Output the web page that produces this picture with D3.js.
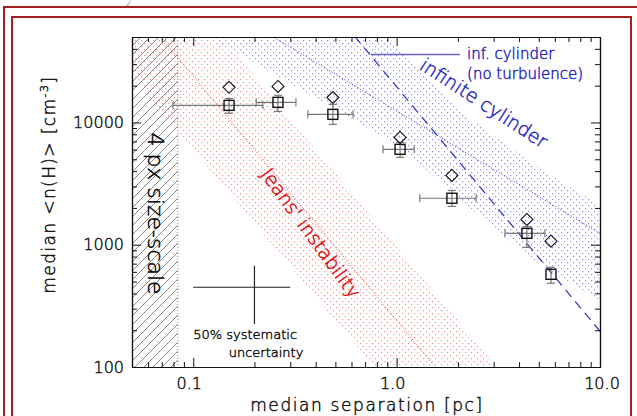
<!DOCTYPE html>
<html>
<head>
<meta charset="utf-8">
<script src="https://cdn.jsdelivr.net/npm/d3@7"></script>
<style>
  body { margin: 0; background: #fff; }
  text { font-family: "DejaVu Sans", sans-serif; font-weight: 200; stroke-width: 0.45; paint-order: fill; }
</style>
</head>
<body>
<div id="chart"></div>
<script>
// data
var sepX      = [0.150, 0.261, 0.486, 1.04, 1.87, 4.37, 5.74];
var sepLo     = [0.0796, 0.204, 0.366, 0.857, 1.30, 3.41, 5.74];
var sepHi     = [0.220, 0.320, 0.611, 1.22, 2.46, 5.36, 5.74];
var nSquare   = [13800, 14600, 11650, 6030, 2400, 1240, 573];
var nLo       = [11900, 12300, 9650, 5190, 2060, 950, 484];
var nHi       = [15700, 16700, 14060, 6880, 2780, 1410, 653];
var nDiamond  = [19400, 19700, 16000, 7550, 3690, 1610, 1070];

// model lines, as end points [sep, n]
var jeansMid   = [[0.05, 96000], [10, 2.4]];
var jeansLow   = [[0.05, 24000], [10, 0.6]];
var jeansHigh  = [[0.05, 384000], [10, 9.6]];
var cylDashed  = [[0.5, 78400], [10, 196]];
var cylDotted  = [[0.2, 62000], [10, 1240]];
var cylUpper   = [[0.877, 50000], [2.29, 10800], [5.24, 4060], [10, 2100]];
var cylLower   = [[0.12, 50000], [0.26, 24000], [1.04, 6300], [2.3, 2000], [5.0, 700], [10, 350]];
var sizeScale  = 0.084;   // pc
var sysErr     = {x: 0.2, n: 449};

var xTicksMajor = [0.1, 1, 10];
var xTickLabels = ["0.1", "1.0", "10.0"];
var yTicksMajor = [100, 1000, 10000];
var yTickLabels = ["100", "1000", "10000"];

var width = 637, height = 416;
var margin = {left: 132, top: 37, right: 37, bottom: 49};
var w = width - margin.left - margin.right,
    h = height - margin.top - margin.bottom;

var svg = d3.select("#chart").append("svg")
  .attr("width", width).attr("height", height);

// page frame
var frameCol = "#a32020";
svg.append("rect").attr("x", 4).attr("y", 7).attr("width", 640).attr("height", 420)
  .attr("fill", "none").attr("stroke", frameCol).attr("stroke-width", 2);
svg.append("rect").attr("x", 12).attr("y", 17).attr("width", 619).attr("height", 420)
  .attr("fill", "none").attr("stroke", frameCol).attr("stroke-width", 2);
svg.append("text").attr("x", 126).attr("y", 6).attr("font-size", 8).attr("fill", "#666").text("2");

var defs = svg.append("defs");
defs.append("clipPath").attr("id", "plotclip")
  .append("rect").attr("width", w).attr("height", h);

function dots(id, col) {
  var p = defs.append("pattern").attr("id", id).attr("patternUnits", "userSpaceOnUse")
    .attr("width", 6).attr("height", 6);
  p.append("rect").attr("x", 0).attr("y", 0).attr("width", 1.2).attr("height", 1.2).attr("fill", col);
  p.append("rect").attr("x", 3).attr("y", 3).attr("width", 1.2).attr("height", 1.2).attr("fill", col);
}
dots("reddots", "#f39090");
dots("bluedots", "#8c8ce6");

var hatch = defs.append("pattern").attr("id", "hatch").attr("patternUnits", "userSpaceOnUse")
  .attr("width", 9).attr("height", 9);
hatch.append("path").attr("d", "M-1,10 L10,-1 M-2,2 L2,-2 M7,11 L11,7")
  .attr("stroke", "#555").attr("stroke-width", 0.7);

var g = svg.append("g").attr("transform", "translate(" + margin.left + "," + margin.top + ")");

var x = d3.scaleLog().domain([0.05, 10]).range([0, w]);
var y = d3.scaleLog().domain([100, 50000]).range([h, 0]);

var line = d3.line().x(function(d) { return x(d[0]); }).y(function(d) { return y(d[1]); });

var plot = g.append("g").attr("clip-path", "url(#plotclip)");

// Jeans band
plot.append("path")
  .attr("d", line(jeansLow.concat(jeansHigh.slice().reverse())) + "Z")
  .attr("fill", "url(#reddots)");
// cylinder band
plot.append("path")
  .attr("d", line(cylUpper.concat(cylLower.slice().reverse())) + "Z")
  .attr("fill", "url(#bluedots)");

plot.append("path").attr("d", line(jeansMid)).attr("fill", "none")
  .attr("stroke", "#e03030").attr("stroke-width", 1).attr("stroke-dasharray", "1,2");
plot.append("path").attr("d", line(cylDotted)).attr("fill", "none")
  .attr("stroke", "#3030c0").attr("stroke-width", 1).attr("stroke-dasharray", "1,2");
plot.append("path").attr("d", line(cylDashed)).attr("fill", "none")
  .attr("stroke", "#3030c0").attr("stroke-width", 1.2).attr("stroke-dasharray", "9,6");

// resolution limit
plot.append("rect").attr("x", 0).attr("y", 0).attr("width", x(sizeScale)).attr("height", h)
  .attr("fill", "url(#hatch)");
plot.append("line").attr("x1", x(sizeScale)).attr("x2", x(sizeScale)).attr("y1", 0).attr("y2", h)
  .attr("stroke", "#888").attr("stroke-dasharray", "1,2");

// annotations
function label(sel, col) { return sel.attr("fill", col).attr("stroke", col); }

label(g.append("text").attr("transform", "translate(" + (x(0.065)) + "," + (y(1800)) + ") rotate(90)")
  .attr("text-anchor", "middle").attr("dominant-baseline", "central")
  .attr("font-size", 22), "#000").text("4 px size-scale");

label(g.append("text").attr("transform", "translate(" + (x(0.38)) + "," + (y(1250)) + ") rotate(54)")
  .attr("text-anchor", "middle").attr("dominant-baseline", "central")
  .attr("font-size", 19), "#e00000").text("Jeans' instability");

label(g.append("text").attr("transform", "translate(" + (x(2.69)) + "," + (y(14500)) + ") rotate(33)")
  .attr("text-anchor", "middle").attr("dominant-baseline", "central")
  .attr("font-size", 19), "#2020c0").text("infinite cylinder");

// legend
g.append("line").attr("x1", x(0.748)).attr("x2", x(2.05)).attr("y1", y(36000)).attr("y2", y(36000))
  .attr("stroke", "#6a60d0").attr("stroke-width", 1.5);
label(g.append("text").attr("x", x(2.22)).attr("y", y(36000)).attr("dominant-baseline", "central")
  .attr("font-size", 15), "#2020c0").text("inf. cylinder");
label(g.append("text").attr("x", x(2.22)).attr("y", y(25000)).attr("dominant-baseline", "central")
  .attr("font-size", 15), "#2020c0").text("(no turbulence)");

// systematic uncertainty cross
var sys = g.append("g").attr("stroke", "#222").attr("stroke-width", 1.2);
sys.append("line").attr("x1", x(sysErr.x * 0.5)).attr("x2", x(sysErr.x * 1.5))
  .attr("y1", y(sysErr.n)).attr("y2", y(sysErr.n));
sys.append("line").attr("x1", x(sysErr.x)).attr("x2", x(sysErr.x))
  .attr("y1", y(sysErr.n * 0.5)).attr("y2", y(sysErr.n * 1.5));
label(g.append("text").attr("x", x(0.1)).attr("y", y(sysErr.n) + 52).attr("font-size", 13), "#111")
  .text("50% systematic");
label(g.append("text").attr("x", x(0.228)).attr("y", y(sysErr.n) + 70).attr("font-size", 13), "#111")
  .attr("text-anchor", "middle").text("uncertainty");

// data points
var pts = d3.range(sepX.length);
var eb = g.append("g").attr("stroke", "#777").attr("stroke-width", 1.2).attr("fill", "none");
pts.forEach(function(i) {
  var cx = x(sepX[i]), cy = y(nSquare[i]);
  if (sepHi[i] > sepLo[i]) {
    eb.append("line").attr("x1", x(sepLo[i])).attr("x2", x(sepHi[i])).attr("y1", cy).attr("y2", cy);
    eb.append("line").attr("x1", x(sepLo[i])).attr("x2", x(sepLo[i])).attr("y1", cy - 4).attr("y2", cy + 4);
    eb.append("line").attr("x1", x(sepHi[i])).attr("x2", x(sepHi[i])).attr("y1", cy - 4).attr("y2", cy + 4);
  }
  eb.append("line").attr("x1", cx).attr("x2", cx).attr("y1", y(nLo[i])).attr("y2", y(nHi[i]));
  eb.append("line").attr("x1", cx - 4).attr("x2", cx + 4).attr("y1", y(nLo[i])).attr("y2", y(nLo[i]));
  eb.append("line").attr("x1", cx - 4).attr("x2", cx + 4).attr("y1", y(nHi[i])).attr("y2", y(nHi[i]));
});
g.selectAll(".sq").data(pts).enter().append("rect").attr("class", "sq")
  .attr("x", function(i) { return x(sepX[i]) - 5; })
  .attr("y", function(i) { return y(nSquare[i]) - 5; })
  .attr("width", 10).attr("height", 10)
  .attr("fill", "none").attr("stroke", "#111").attr("stroke-width", 1.4);
g.selectAll(".dm").data(pts).enter().append("path").attr("class", "dm")
  .attr("transform", function(i) { return "translate(" + x(sepX[i]) + "," + y(nDiamond[i]) + ")"; })
  .attr("d", "M0,-6 L6,0 L0,6 L-6,0 Z")
  .attr("fill", "none").attr("stroke", "#111").attr("stroke-width", 1.1);

// axes, ticks inward on all sides
function minorTicks(lo, hi) {
  var t = [];
  for (var e = Math.floor(Math.log10(lo)); e <= Math.ceil(Math.log10(hi)); e++)
    for (var k = 2; k <= 9; k++) { var v = k * Math.pow(10, e); if (v > lo && v < hi) t.push(v); }
  return t;
}
var xMinor = minorTicks(0.05, 10), yMinor = minorTicks(100, 50000);

function axisStyle(sel) {
  sel.select(".domain").attr("stroke", "#111").attr("stroke-width", 1.2);
  sel.selectAll(".tick line").attr("stroke", "#111");
  sel.selectAll("text").remove();
}
g.append("g").attr("transform", "translate(0," + h + ")")
  .call(d3.axisBottom(x).tickValues(xMinor).tickSize(-5).tickSizeOuter(0)).call(axisStyle);
g.append("g").attr("transform", "translate(0," + h + ")")
  .call(d3.axisBottom(x).tickValues(xTicksMajor).tickSize(-9).tickSizeOuter(0)).call(axisStyle);
g.append("g")
  .call(d3.axisTop(x).tickValues(xMinor).tickSize(-5).tickSizeOuter(0)).call(axisStyle);
g.append("g")
  .call(d3.axisTop(x).tickValues(xTicksMajor).tickSize(-9).tickSizeOuter(0)).call(axisStyle);
g.append("g")
  .call(d3.axisLeft(y).tickValues(yMinor).tickSize(-5).tickSizeOuter(0)).call(axisStyle);
g.append("g")
  .call(d3.axisLeft(y).tickValues(yTicksMajor).tickSize(-9).tickSizeOuter(0)).call(axisStyle);
g.append("g").attr("transform", "translate(" + w + ",0)")
  .call(d3.axisRight(y).tickValues(yMinor).tickSize(-5).tickSizeOuter(0)).call(axisStyle);
g.append("g").attr("transform", "translate(" + w + ",0)")
  .call(d3.axisRight(y).tickValues(yTicksMajor).tickSize(-9).tickSizeOuter(0)).call(axisStyle);

label(g.selectAll(".xl").data(xTicksMajor).enter().append("text")
  .attr("x", function(d) { return x(d) - 4 + (d > 1 ? 6 : 0); }).attr("y", h + 22)
  .attr("text-anchor", "middle").attr("font-size", 16), "#111")
  .text(function(d, i) { return xTickLabels[i]; });
label(g.selectAll(".yl").data(yTicksMajor).enter().append("text")
  .attr("x", -8).attr("y", function(d) { return y(d); }).attr("dominant-baseline", "central")
  .attr("text-anchor", "end").attr("font-size", 16), "#111")
  .text(function(d, i) { return yTickLabels[i]; });

label(g.append("text").attr("x", w / 2 + 1).attr("y", h + 44).attr("text-anchor", "middle")
  .attr("font-size", 17).attr("letter-spacing", 1.6), "#111")
  .text("median separation [pc]");

var yt = label(g.append("text").attr("transform", "translate(-77," + (y(3100)) + ") rotate(-90)")
  .attr("text-anchor", "middle").attr("font-size", 17).attr("letter-spacing", 1.4), "#111");
yt.append("tspan").text("median <n(H)> [cm");
yt.append("tspan").attr("font-size", 11).attr("dy", -7).text("-3");
yt.append("tspan").attr("dy", 7).text("]");
</script>
</body>
</html>
